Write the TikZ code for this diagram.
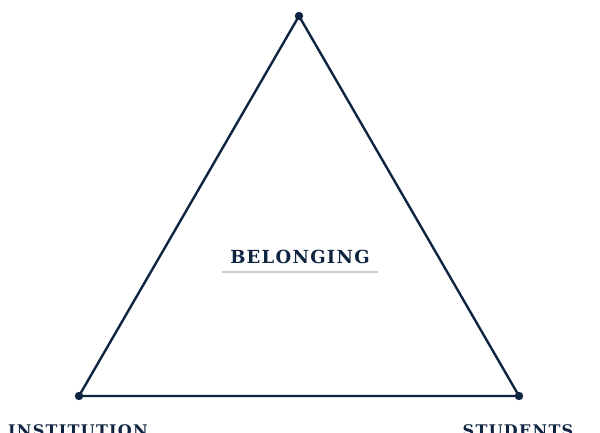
\documentclass[tikz,border=0pt]{standalone}
\usepackage{fontspec}
\setmainfont{DejaVu Serif}
\usepackage{tikz}
\definecolor{navy}{HTML}{0E2440}
\definecolor{rulegrey}{HTML}{CCCCCC}
\begin{document}
\begin{tikzpicture}[x=1pt,y=1pt]
	\tikzset{edge/.style={draw=navy,line width=2.4pt,line join=round}}
	\tikzset{corner/.style={fill=navy}}
	\tikzset{caption/.style={text=navy,inner sep=0pt,anchor=base,font=\fontsize{18}{18}\selectfont\bfseries\addfontfeatures{LetterSpace=7}}}
	\tikzset{vertex label/.style={caption,font=\fontsize{16}{16}\selectfont\bfseries\addfontfeatures{LetterSpace=8}}}
	\useasboundingbox (0,0) rectangle (600,433);
	\coordinate (apex) at (299,417);
	\coordinate (inst) at (79,37);
	\coordinate (stud) at (519,37);
	\draw[edge] (apex) -- (inst) -- (stud) -- cycle;
	\foreach \c in {apex,inst,stud} \fill[corner] (\c) circle (4.2pt);
	\node[caption] (belonging) at (300,169) {BELONGING};
	\draw[rulegrey,line width=2pt] (222,160.5) -- (378,160.5);
	\node[vertex label] (institution) at (78,-3.5) {INSTITUTION};
	\node[vertex label] (students) at (518,-3.5) {STUDENTS};
\end{tikzpicture}
\end{document}
